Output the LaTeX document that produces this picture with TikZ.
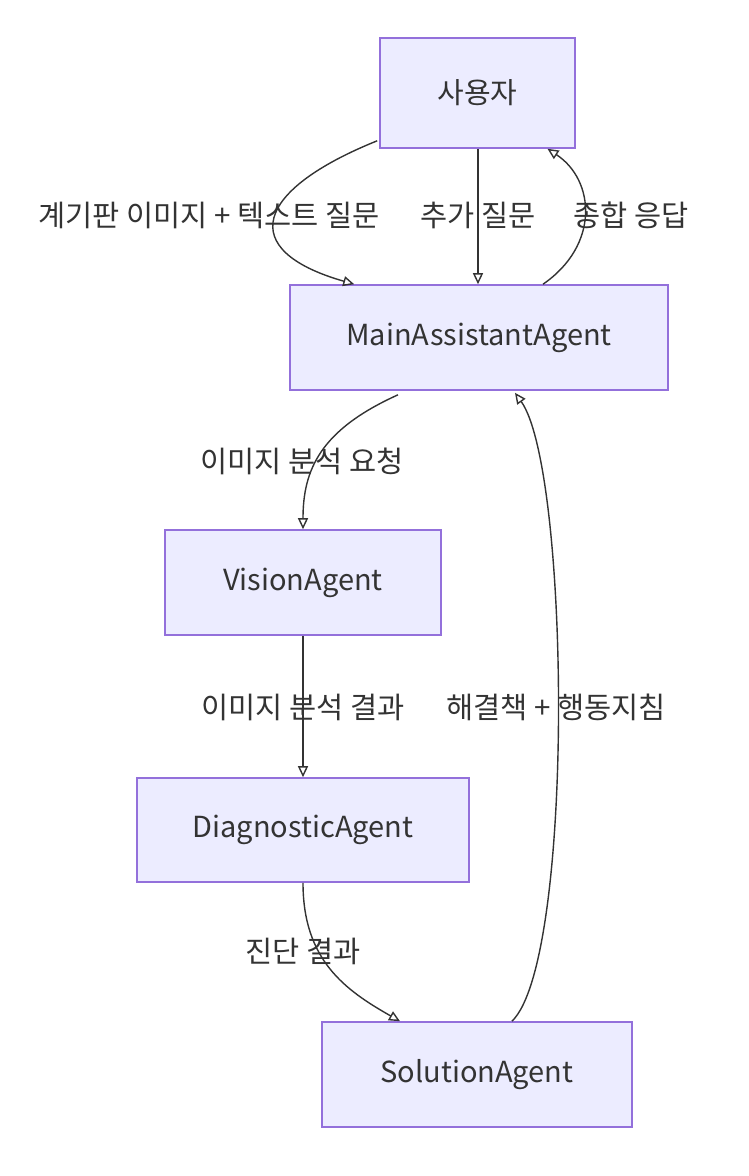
\documentclass[tikz,border=0pt]{standalone}
\usepackage{fontspec}
\setmainfont{Noto Sans CJK KR}
\usetikzlibrary{arrows.meta,calc}
\definecolor{boxfill}{HTML}{ECECFF}
\definecolor{boxline}{HTML}{9370DB}
\definecolor{ink}{HTML}{333333}
\tikzset{
  agent/.style={draw=boxline, fill=boxfill, line width=1.6pt, inner sep=0pt, text=ink, font=\fontsize{29}{33}\selectfont},
  flow/.style={draw=ink, line width=1.4pt, -{Triangle[open,length=11pt,width=10pt,line width=1.4pt]}},
  lbl/.style={text=ink, font=\fontsize{29.5}{33}\selectfont, inner sep=1pt}
}
\begin{document}
\begin{tikzpicture}[x=1pt,y=-1pt]
\useasboundingbox (0,0) rectangle (748,1176);
\node[agent, minimum width=195pt, minimum height=110pt] (user) at (477.5,93) {사용자};
\node[agent, minimum width=378pt, minimum height=105pt] (main) at (479,337.5) {MainAssistantAgent};
\node[agent, minimum width=276pt, minimum height=105pt] (vision) at (303,582.5) {VisionAgent};
\node[agent, minimum width=332pt, minimum height=104pt] (diag) at (303,830) {DiagnosticAgent};
\node[agent, minimum width=310pt, minimum height=105pt] (sol) at (477,1074.5) {SolutionAgent};

\node[lbl] (l1) at (209,215) {계기판 이미지 + 텍스트 질문};
\node[lbl] (l2) at (478,215) {추가 질문};
\node[lbl] (l3) at (631,215) {종합 응답};
\node[lbl] (l4) at (302,461) {이미지 분석 요청};
\node[lbl] (l5) at (303,707) {이미지 분석 결과};
\node[lbl] (l6) at (556,707) {해결책 + 행동지침};
\node[lbl] (l7) at (303,951) {진단 결과};

\draw[flow] ($(user.south west)+(-2,-8)$) .. controls (255,190) and (235,250) .. ($(main.north west)+(65,0)$);
\draw[flow] ($(user.south)+(0.5,0)$) -- ($(main.north)+(-1,0)$);
\draw[flow] ($(main.north)+(64,0)$) .. controls (600,245) and (595,180) .. ($(user.south)+(70,0)$);
\draw[flow] ($(main.south)+(-81,4)$) .. controls (320,430) and (303,470) .. (vision.north);
\draw[flow] (vision.south) -- (diag.north);
\draw[flow] (diag.south) .. controls (303,960) and (345,990) .. ($(sol.north)+(-77,0)$);
\draw[flow] ($(sol.north)+(35,0)$) .. controls (575,960) and (570,470) .. ($(main.south)+(36,2)$);
\end{tikzpicture}
\end{document}
